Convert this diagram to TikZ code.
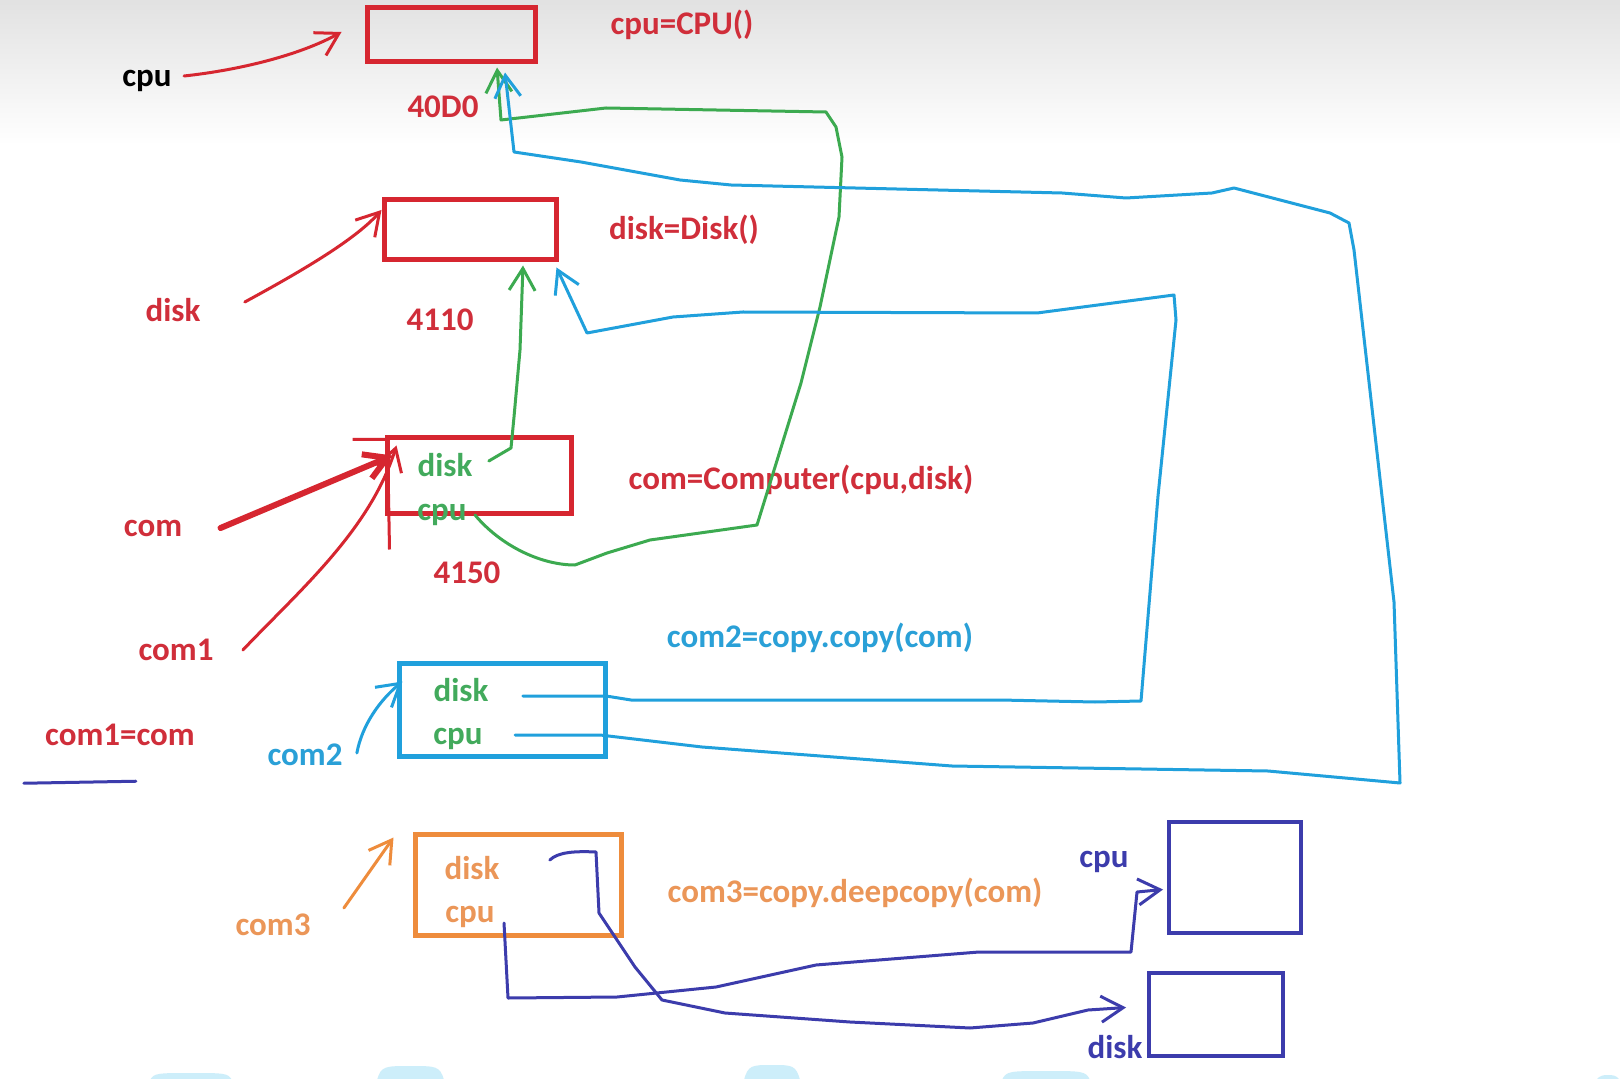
\documentclass[tikz,border=0pt]{standalone}
\usepackage{fontspec}
\setmainfont{Carlito}
\usetikzlibrary{arrows.meta}
\definecolor{memred}{RGB}{214,38,48}
\definecolor{memgreen}{RGB}{60,170,80}
\definecolor{memblue}{RGB}{32,160,220}
\definecolor{memorange}{RGB}{238,140,60}
\definecolor{mempurple}{RGB}{60,60,172}
\definecolor{txtred}{RGB}{208,46,58}
\definecolor{txtgreen}{RGB}{66,170,92}
\definecolor{txtblue}{RGB}{42,160,215}
\definecolor{txtorange}{RGB}{235,150,88}
\definecolor{wmblue}{RGB}{205,238,250}
\tikzset{memobj/.style={draw,rectangle,line width=2.5pt,inner sep=0pt},
         memlab/.style={inner sep=0pt,font=\bfseries\fontsize{16.5}{18}\selectfont},
         memptr/.style={line width=1.5pt,line cap=round,line join=round,
                        -{Straight Barb[length=11pt,width=13pt]}}}

\begin{document}
\begin{tikzpicture}[x=0.5pt,y=-0.5pt]
    \fill[white] (0,0) rectangle (1620,1079);
    \shade[top color=gray!23,bottom color=white] (0,0) rectangle (1620,145);
    \useasboundingbox (0,0) rectangle (1620,1079);
    % watermark at the bottom edge
    \foreach \a/\b/\t in {150/232/1073,377/444/1066,744/800/1065,1002/1090/1071,1596/1620/1075}
      \fill[wmblue] (\a,1080) .. controls (\a+4,\t) and (\a+8,\t) .. ({(\a+\b)/2},\t)
                    .. controls (\b-8,\t) and (\b-4,\t) .. (\b,1080) -- cycle;
    % objects
    \node[memobj,memred,minimum width=84pt,minimum height=27pt] (cpuo) at (451,35) {};
    \node[memobj,memred,minimum width=86pt,minimum height=30pt] (disko) at (470,230) {};
    \node[memobj,memred,minimum width=92pt,minimum height=37.5pt] (como) at (479,475.5) {};
    \node[memobj,memblue,minimum width=103pt,minimum height=46.5pt] (com2o) at (502,709.5) {};
    \node[memobj,memorange,minimum width=103pt,minimum height=50.5pt] (com3o) at (518,884.5) {};
    \node[memobj,mempurple,line width=2pt,minimum width=66pt,minimum height=55.5pt] (cpuc) at (1235,877.5) {};
    \node[memobj,mempurple,line width=2pt,minimum width=67pt,minimum height=41.5pt] (diskc) at (1216,1014.5) {};
    % names, addresses and statements
    \node[memlab] (cpul) at (147,81) {cpu};
    \node[memlab,txtred] (cpudef) at (682,25) {cpu=CPU()};
    \node[memlab,txtred] (cpuad) at (443,107) {40D0};
    \node[memlab,txtred] (diskl) at (173,310) {disk};
    \node[memlab,txtred] (diskdef) at (684,230) {disk=Disk()};
    \node[memlab,txtred] (diskad) at (440,320) {4110};
    \node[memlab,txtred] (coml) at (153,528) {com};
    \node[memlab,txtred] (com1l) at (176,650) {com1};
    \node[memlab,txtred] (comdef) at (801,480) {com=Computer(cpu,disk)};
    \node[memlab,txtred] (comad) at (467,573) {4150};
    \node[memlab,txtred] (com1eq) at (120,735) {com1=com};
    \node[memlab,txtblue] (com2l) at (305,755) {com2};
    \node[memlab,txtblue] (com2def) at (820,638) {com2=copy.copy(com)};
    \node[memlab,txtorange] (com3l) at (273,925) {com3};
    \node[memlab,txtorange] (com3def) at (855,893) {com3=copy.deepcopy(com)};
    \node[memlab,mempurple] (cpucl) at (1104,862) {cpu};
    \node[memlab,mempurple] (diskcl) at (1115,1047) {disk};
    % fields
    \node[memlab,txtgreen] (comdisk) at (445,465) {disk};
    \node[memlab,txtgreen] (comcpu) at (442,515) {cpu};
    \node[memlab,txtgreen] (com2disk) at (461,690) {disk};
    \node[memlab,txtgreen] (com2cpu) at (458,739) {cpu};
    \node[memlab,txtorange] (com3disk) at (472,868) {disk};
    \node[memlab,txtorange] (com3cpu) at (470,917) {cpu};
    % references
    \draw[memptr,memred] ([xshift=6pt,yshift=2.5pt]cpul.east) .. controls (240,70) and (300,55) .. ([xshift=-11.5pt,yshift=1.5pt]cpuo.west);
    \draw[memptr,memred] ([xshift=22pt,yshift=4pt]diskl.east) .. controls (300,272) and (355,240) .. ([yshift=10pt]disko.west);
    \draw[memptr,memred,line width=3pt] ([xshift=19pt]coml.east) -- ([xshift=4pt,yshift=10pt]como.west);
    \draw[memptr,memred] ([xshift=14.5pt]com1l.east) .. controls (300,590) and (370,530) .. ([xshift=6pt,yshift=-5pt]como.north west);
    \draw[memred,line width=1.5pt] ([xshift=-16pt,yshift=-2pt]como.north west) -- ([xshift=1.5pt,yshift=-2pt]como.north west)
        -- ([xshift=2.5pt,yshift=-57pt]como.north west);
    \draw[memptr,memgreen] ([xshift=8pt,yshift=2pt]comdisk.east) -- (511,448) -- (514,417) -- (520,350) -- ([xshift=26.5pt,yshift=-1.5pt]disko.south);
    \draw[memptr,memgreen] ([xshift=4pt]comcpu.east) .. controls (500,545) and (540,565) .. (575,565) -- (607,553)
        -- (650,540) -- (757,525) -- (775,467) -- (801,383) -- (820,307) -- (839,217) -- (842,157) -- (836,127) -- (826,112)
        -- (606,108) -- (501,120) -- ([xshift=23pt,yshift=-1.5pt]cpuo.south);
    \draw[memptr,memblue] ([xshift=7pt,yshift=1pt]com2l.east) .. controls (362,725) and (380,700) .. ([xshift=3pt,yshift=14pt]com2o.west);
    \draw[memptr,memblue] ([xshift=17pt,yshift=-3pt]com2disk.east) -- (606,696) -- (631,700) -- (1000,700) -- (1095,702) -- (1141,701)
        -- (1158,496) -- (1176,320) -- (1174,295) -- (1037,313) -- (743,312) -- (673,317) -- (587,333)
        -- ([xshift=-1pt,yshift=-2.5pt]disko.south east);
    \draw[memptr,memblue] ([xshift=16pt,yshift=2pt]com2cpu.east) -- (600,735) -- (702,747) -- (952,766) -- (1268,771) -- (1400,783)
        -- (1394,602) -- (1354,250) -- (1349,223) -- (1330,213) -- (1234,188) -- (1212,193) -- (1126,198) -- (1062,193)
        -- (731,185) -- (680,180) -- (581,162) -- (514,152) -- ([xshift=27pt,yshift=-4pt]cpuo.south);
    \draw[memptr,memorange] ([xshift=16.5pt,yshift=8.5pt]com3l.east) -- ([xshift=-9.5pt,yshift=-3pt]com3o.north west);
    \draw[memptr,mempurple] ([xshift=25pt,yshift=4pt]com3disk.east) .. controls (558,852) and (575,851) .. (596,852) -- (599,913)
        -- (635,967) -- (662,1000) -- (725,1013) -- (850,1022) -- (970,1028) -- (1033,1023) -- (1088,1010)
        -- ([xshift=-10.5pt,yshift=3.5pt]diskc.west);
    \draw[memptr,mempurple] ([xshift=4.5pt,yshift=-3pt]com3cpu.east) -- (508,998) -- (617,997) -- (716,987) -- (816,965)
        -- (979,952) -- (1131,952) -- (1137,892) -- ([xshift=-2pt,yshift=-6pt]cpuc.west);
    \draw[mempurple,line width=1.5pt,line cap=round] ([xshift=-10.5pt,yshift=-18.5pt]com1eq.south west) -- ([xshift=45.5pt,yshift=-17.5pt]com1eq.south west);
\end{tikzpicture}
\end{document}
